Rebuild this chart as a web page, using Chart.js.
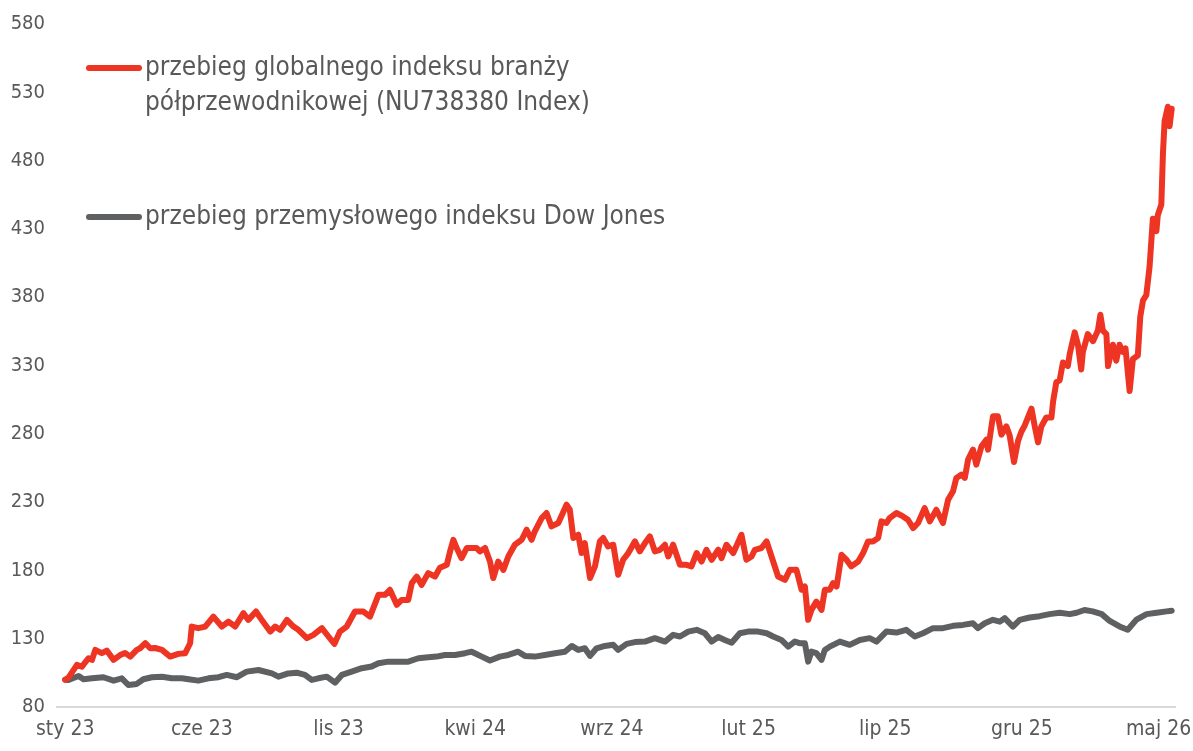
<!DOCTYPE html>
<html lang="pl">
<head>
<meta charset="utf-8">
<title>Indeks półprzewodników vs Dow Jones</title>
<script src="https://cdn.jsdelivr.net/npm/chart.js@4.4.1/dist/chart.umd.min.js"></script>
<style>
  html, body { margin: 0; padding: 0; background: #fff; }
  #wrap { width: 1193px; height: 751px; position: relative; }
</style>
</head>
<body>
<div id="wrap"><canvas id="indexChart"></canvas></div>
<script>
// months counted from January 2023 (0 = sty 23)
const tickLabels = ["sty 23", "cze 23", "lis 23", "kwi 24", "wrz 24", "lut 25", "lip 25", "gru 25", "maj 26"];

const semiLabel = ["przebieg globalnego indeksu branży", "półprzewodnikowej (NU738380 Index)"];
const dowLabel = ["przebieg przemysłowego indeksu Dow Jones"];

// --- semiconductor index (rebased to 100)
const semiMonths = [
  0, 0.12, 0.43, 0.61, 0.85, 0.98, 1.10, 1.34, 1.52, 1.77, 2.01, 2.19, 2.38, 2.62, 2.74, 2.93,
  3.11, 3.29, 3.54, 3.84, 4.14, 4.39, 4.57, 4.63, 4.87, 5.12, 5.42, 5.73, 5.97, 6.22, 6.52, 6.70,
  6.98, 7.19, 7.50, 7.68, 7.86, 8.11, 8.35, 8.53, 8.84, 9.08, 9.39, 9.63, 9.85, 10.05, 10.30, 10.60,
  10.91, 11.15, 11.46, 11.70, 11.88, 12.13, 12.31, 12.55, 12.68, 12.86, 13.04, 13.28, 13.53, 13.71,
  13.96, 14.08, 14.20, 14.32, 14.50, 14.69, 15.05, 15.17, 15.36, 15.54, 15.66, 15.84, 16.03, 16.21,
  16.45, 16.70, 16.88, 17.06, 17.18, 17.43, 17.61, 17.79, 18.04, 18.34, 18.46, 18.59, 18.77, 18.89,
  19.01, 19.20, 19.38, 19.56, 19.68, 19.86, 20.05, 20.23, 20.41, 20.60, 20.84, 21.02, 21.21, 21.39,
  21.57, 21.76, 21.94, 22.06, 22.24, 22.49, 22.73, 22.91, 23.10, 23.28, 23.46, 23.65, 23.89, 24.01,
  24.19, 24.44, 24.74, 24.92, 25.11, 25.23, 25.47, 25.66, 25.84, 26.08, 26.33, 26.51, 26.75, 26.94,
  27.06, 27.18, 27.30, 27.48, 27.67, 27.79, 27.97, 28.09, 28.22, 28.40, 28.58, 28.76, 29.01, 29.19,
  29.37, 29.55, 29.74, 29.86, 30.04, 30.16, 30.41, 30.65, 30.83, 31.02, 31.20, 31.44, 31.63, 31.87,
  32.11, 32.30, 32.48, 32.60, 32.79, 32.91, 33.03, 33.21, 33.33, 33.52, 33.70, 33.76, 33.94, 34.12,
  34.25, 34.43, 34.55, 34.71, 34.86, 34.98, 35.10, 35.35, 35.47, 35.59, 35.71, 35.89, 36.08, 36.14,
  36.26, 36.38, 36.50, 36.68, 36.75, 36.93, 37.05, 37.17, 37.23, 37.41, 37.60, 37.78, 37.87, 37.96,
  38.09, 38.15, 38.27, 38.33, 38.45, 38.57, 38.69, 38.79, 38.94, 39.06, 39.24, 39.33, 39.43, 39.55,
  39.67, 39.79, 39.92, 39.97, 40.10, 40.16, 40.22, 40.34, 40.40, 40.48
];
const semiValues = [
  100, 101.5, 110.8, 109.5, 115.7, 114.5, 121.8, 119.4, 121.3, 114.5, 118, 119.6, 116.9, 121.8, 123, 126.7,
  123, 123.2, 121.8, 116.9, 118.9, 119.4, 126.7, 138.9, 137.7, 138.9, 146.2, 138.9, 142.5, 138.9, 148.7, 143.8,
  149.9, 143.8, 135.2, 138.9, 136.5, 143.8, 138.9, 136.5, 130.4, 132.8, 137.7, 131.6, 126.2, 135.2, 138.9, 149.9,
  149.9, 146.2, 162.1, 162.1, 165.8, 154.8, 158.4, 158.4, 170.7, 175.5, 169.4, 178, 175.5, 182,
  184.1, 193.9, 202.4, 196.4, 189, 196.4, 196.4, 193.9, 196.4, 186.5, 174.4, 186.5, 180.4, 190.2,
  198.8, 202.4, 209.8, 202.4, 208.5, 218.3, 222, 212.2, 214.7, 228.1, 224.4, 203.7, 206.1, 192.7,
  200, 174.4, 182.9, 201.2, 203.7, 197.6, 198.8, 176.8, 187.8, 192.7, 201.2, 193.9, 200, 204.9,
  193.9, 195.1, 198.8, 190.2, 198.8, 184.1, 184.1, 182.9, 192.7, 186.5, 195.1, 187.8, 195.1, 189,
  198.8, 192.7, 206.1, 187.8, 190.2, 195.1, 196.4, 201.2, 190.2, 175.5, 173.1, 180.4, 180.4, 165.8,
  168.2, 143.8, 151.1, 157.2, 151.1, 165.8, 165.8, 170.7, 168.2, 191.4, 187.8, 182.9, 186.5, 192.7,
  201.2, 201.2, 203.7, 215.9, 214.7, 218.3, 222, 219.5, 217.1, 211, 214.7, 225.6, 215.9, 224.4,
  214.7, 231.8, 237.9, 247.7, 250.1, 247.7, 261.1, 268.4, 257.4, 270.8, 275.7, 268.4, 292.8, 292.8,
  279.4, 285.5, 279, 259.4, 275, 281.5, 286, 298.4, 285.4, 273.7, 285.4, 291.9, 291.9, 303.6,
  317.9, 319.2, 332.2, 329.6, 338.6, 354.3, 345.2, 327, 340, 353, 347.8, 355.6, 367.2, 355.6,
  353, 329.6, 340, 345.2, 333.5, 345.2, 340, 342.5, 311.3, 334.8, 337.3, 365.9, 377.7, 381.5,
  402.4, 437.5, 428.4, 440, 447.9, 485.6, 509, 519.4, 505.1, 518
];

// --- Dow Jones Industrial Average (rebased to 100)
const dowMonths = [
  0, 0.12, 0.49, 0.67, 0.98, 1.40, 1.77, 2.07, 2.31, 2.62, 2.86, 3.17, 3.54, 3.90, 4.27, 4.51,
  4.87, 5.24, 5.61, 5.91, 6.28, 6.64, 7.07, 7.56, 7.80, 8.16, 8.47, 8.77, 9.02, 9.26, 9.57, 9.87,
  10.12, 10.48, 10.85, 11.21, 11.46, 11.82, 12.19, 12.55, 12.92, 13.28, 13.59, 13.89, 14.26, 14.63,
  14.87, 15.24, 15.54, 15.90, 16.21, 16.57, 16.82, 17.18, 17.55, 17.92, 18.28, 18.53, 18.77, 19.01,
  19.20, 19.44, 19.74, 20.05, 20.23, 20.54, 20.84, 21.21, 21.57, 21.94, 22.24, 22.49, 22.79, 23.10,
  23.40, 23.65, 23.89, 24.13, 24.38, 24.68, 24.98, 25.35, 25.66, 25.90, 26.20, 26.45, 26.69, 26.87,
  27.06, 27.18, 27.30, 27.48, 27.67, 27.79, 27.97, 28.34, 28.70, 29.07, 29.43, 29.68, 30.04, 30.41,
  30.77, 31.08, 31.38, 31.75, 32.11, 32.48, 32.84, 33.21, 33.39, 33.64, 33.94, 34.19, 34.37, 34.67,
  34.92, 35.28, 35.65, 36.01, 36.38, 36.75, 37.00, 37.29, 37.59, 37.92, 38.21, 38.57, 38.87, 39.19,
  39.56, 39.93, 40.29, 40.48
];
const dowValues = [
  100, 99.8, 102.7, 100.3, 101, 101.8, 99.3, 101, 96.1, 96.9, 100.3, 101.8, 102.2, 101, 101, 100.3,
  99.3, 101, 101.8, 103.5, 101.8, 105.9, 107.1, 104.6, 102.2, 104.6, 105.1, 103.5, 99.8, 101, 102.2, 97.8,
  103.5, 105.9, 108.4, 109.6, 112, 113.2, 113.2, 113.2, 115.7, 116.4, 116.9, 118.1, 118.1, 119.4,
  120.5, 116.9, 114, 116.9, 118.1, 120.5, 117.4, 116.9, 118.1, 119.4, 120.5, 124.7, 121.8, 123,
  117.4, 123, 124.7, 125.5, 121.8, 126.2, 127.5, 127.9, 130.4, 127.9, 132.8, 131.6, 135.2, 136.5,
  134, 127.9, 131.2, 129.1, 127.1, 134, 135.2, 135.2, 134, 131.6, 129.1, 124.2, 127.9, 126.7,
  126.7, 113.2, 120.5, 119.4, 114.5, 121.8, 124.2, 127.9, 125.5, 129.1, 130.4, 127.9, 135.2, 134.5,
  136.5, 131.6, 134, 137.7, 137.7, 139.4, 140.1, 141.3, 137.7, 141.3, 143.8, 142.5, 145, 138.9,
  143.8, 145.5, 146.5, 148, 149, 148, 149, 151, 150, 148, 143, 139, 136.5, 144,
  148, 149, 150, 150.5
];

const RED = "#ee3524";
const GREY = "#5f6062";
const TEXT = "#595959";
const FONT = "'DejaVu Sans Condensed', 'DejaVu Sans', sans-serif";

const toPoints = (xs, ys) => xs.map((x, i) => ({ x: x, y: ys[i] }));

// legend drawn inside the plot, top-left, with a short thick line per series
const insideLegend = {
  id: "insideLegend",
  afterDraw(chart) {
    const ctx = chart.ctx;
    const left = chart.chartArea.left;
    const rows = [
      { color: RED, lines: semiLabel, y: 68 },
      { color: GREY, lines: dowLabel, y: 217 }
    ];
    ctx.save();
    ctx.font = "26px " + FONT;
    ctx.fillStyle = TEXT;
    ctx.textBaseline = "middle";
    rows.forEach(r => {
      ctx.strokeStyle = r.color;
      ctx.lineWidth = 6;
      ctx.lineCap = "round";
      ctx.beginPath();
      ctx.moveTo(left + 32, r.y);
      ctx.lineTo(left + 82, r.y);
      ctx.stroke();
      r.lines.forEach((t, i) => ctx.fillText(t, left + 88, r.y + i * 35));
    });
    ctx.restore();
  }
};

new Chart(document.getElementById("indexChart"), {
  type: "line",
  data: {
    datasets: [
      {
        label: semiLabel.join(" "),
        data: toPoints(semiMonths, semiValues),
        borderColor: RED,
        borderWidth: 6,
        pointRadius: 0,
        tension: 0,
        borderJoinStyle: "round",
        borderCapStyle: "round"
      },
      {
        label: dowLabel.join(" "),
        data: toPoints(dowMonths, dowValues),
        borderColor: GREY,
        borderWidth: 6,
        pointRadius: 0,
        tension: 0,
        borderJoinStyle: "round",
        borderCapStyle: "round"
      }
    ]
  },
  options: {
    responsive: true,
    maintainAspectRatio: false,
    animation: false,
    layout: { padding: { top: 21, right: 18, left: 0, bottom: 0 } },
    plugins: {
      legend: { display: false },
      tooltip: { enabled: false }
    },
    scales: {
      x: {
        type: "linear",
        min: -0.3,
        max: 40.6,
        afterBuildTicks: (scale) => {
          scale.ticks = tickLabels.map((_, i) => ({ value: i * 5 }));
        },
        afterFit: (scale) => {
          scale.height = 44;
          scale.paddingLeft = 0;
          scale.paddingRight = 0;
        },
        grid: { display: false, drawTicks: false },
        border: { display: true, color: "#d9d9d9", width: 2 },
        ticks: {
          autoSkip: false,
          maxRotation: 0,
          padding: 10,
          color: TEXT,
          font: { family: FONT, size: 21 },
          callback: (v) => tickLabels[Math.round(v / 5)]
        }
      },
      y: {
        min: 80,
        max: 580,
        afterFit: (scale) => { scale.width = 57; },
        grid: { display: false, drawTicks: false },
        border: { display: false },
        ticks: {
          stepSize: 50,
          padding: 12,
          color: TEXT,
          font: { family: FONT, size: 20 }
        }
      }
    }
  },
  plugins: [insideLegend]
});
</script>
</body>
</html>
